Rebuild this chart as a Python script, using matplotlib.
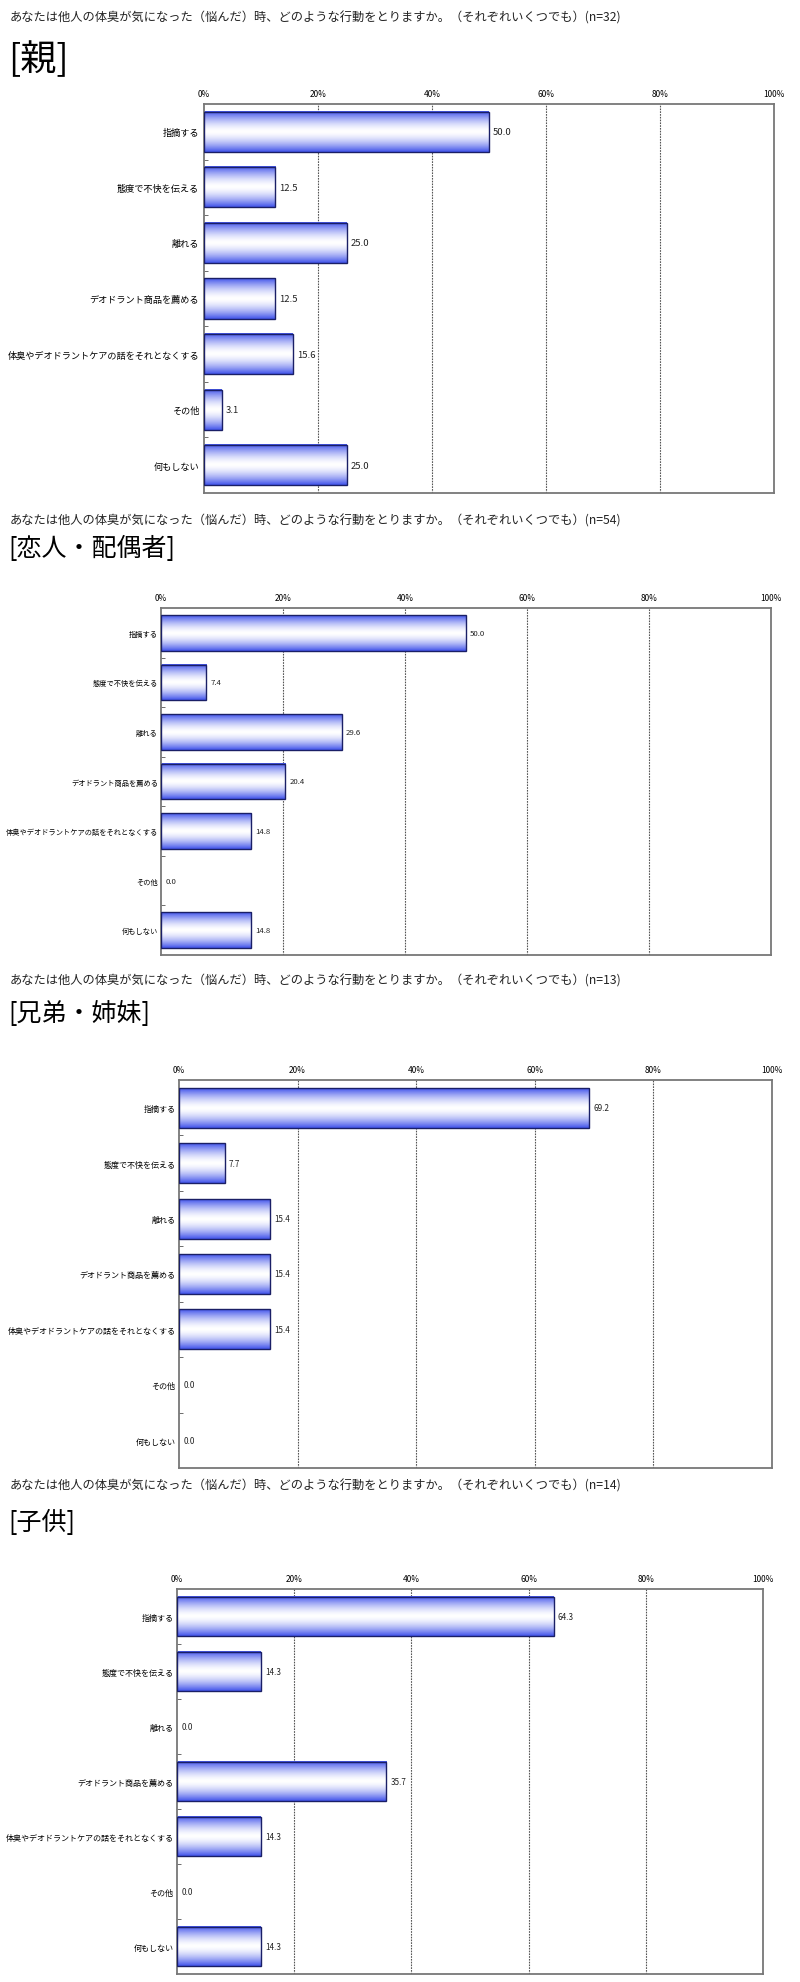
import matplotlib
matplotlib.use("Agg")
import matplotlib.pyplot as plt
import numpy as np

plt.rcParams['font.family'] = ['Noto Sans CJK JP', 'DejaVu Sans']

categories = ["指摘する", "態度で不快を伝える", "離れる", "デオドラント商品を薦める",
              "体臭やデオドラントケアの話をそれとなくする", "その他", "何もしない"]
question = "あなたは他人の体臭が気になった（悩んだ）時、どのような行動をとりますか。（それぞれいくつでも）"
groups = ["[親]", "[恋人・配偶者]", "[兄弟・姉妹]", "[子供]"]
n_values = [32, 54, 13, 14]
values_parent = [50.0, 12.5, 25.0, 12.5, 15.6, 3.1, 25.0]
values_partner = [50.0, 7.4, 29.6, 20.4, 14.8, 0.0, 14.8]
values_sibling = [69.2, 7.7, 15.4, 15.4, 15.4, 0.0, 0.0]
values_child = [64.3, 14.3, 0.0, 35.7, 14.3, 0.0, 14.3]
series = [values_parent, values_partner, values_sibling, values_child]
xticks = [0, 20, 40, 60, 80, 100]
xtick_labels = ["0%", "20%", "40%", "60%", "80%", "100%"]

W, H = 800, 1983
fig = plt.figure(figsize=(W / 100, H / 100), dpi=100)

layouts = [
    dict(box=(204, 774, 105, 494), ty=18, hy=60, hs=26, ts=8.8, ls=6.6, vs=6.8, pad=3.5),
    dict(box=(161, 771, 609, 956), ty=521, hy=549, hs=18, ts=8.8, ls=5.2, vs=5.6, pad=2.2),
    dict(box=(179, 772, 1081, 1469), ty=981, hy=1014, hs=18, ts=8.8, ls=5.8, vs=5.8, pad=2.5),
    dict(box=(177, 763, 1590, 1975), ty=1486, hy=1523, hs=18, ts=8.8, ls=5.8, vs=5.8, pad=2.5),
]

blue = np.array([0.26, 0.33, 0.92])
white = np.array([1.0, 1.0, 1.0])
t = np.linspace(0, 1, 64)
w = 1 - np.abs(2 * t - 1) ** 1.6
grad = (blue[None, :] * (1 - w[:, None]) + white[None, :] * w[:, None])[:, None, :]

for vals, grp, n, lay in zip(series, groups, n_values, layouts):
    l, r, tp, bt = lay["box"]
    ax = fig.add_axes([l / W, 1 - bt / H, (r - l) / W, (bt - tp) / H])
    fig.text(10 / W, 1 - lay["ty"] / H, f"{question}(n={n})", fontsize=lay["ts"],
             va="center", ha="left", color="#222222")
    fig.text(8 / W, 1 - lay["hy"] / H, grp, fontsize=lay["hs"], va="center", ha="left",
             color="black")
    y = np.arange(len(categories))
    bars = ax.barh(y, vals, height=0.72, facecolor="none", edgecolor="#1a1f66",
                   linewidth=1.0, zorder=3)
    for b, v in zip(bars, vals):
        x0, y0, bw, bh = b.get_x(), b.get_y(), b.get_width(), b.get_height()
        if bw > 0:
            ax.imshow(grad, extent=[x0, x0 + bw, y0 + bh, y0], aspect="auto",
                      zorder=2, interpolation="bilinear")
        else:
            b.set_visible(False)
        ax.annotate(f"{v:.1f}", xy=(x0 + bw, y0 + bh / 2), xytext=(3, 0),
                    textcoords="offset points", va="center", ha="left",
                    fontsize=lay["vs"], color="#222222")
    ax.set_xlim(0, 100)
    ax.set_ylim(len(categories) - 0.5, -0.5)
    ax.set_xticks(xticks)
    ax.set_xticklabels(xtick_labels, fontsize=6)
    ax.xaxis.tick_top()
    ax.tick_params(axis="x", length=0, pad=4)
    ax.set_yticks(y)
    ax.set_yticklabels(categories, fontsize=lay["ls"])
    ax.tick_params(axis="y", length=0, pad=lay["pad"])
    ax.set_yticks(np.arange(len(categories) - 1) + 0.5, minor=True)
    ax.tick_params(axis="y", which="minor", length=3, direction="in", color="#555555")
    for gx in [20, 40, 60, 80]:
        ax.axvline(gx, color="#555555", linestyle=(0, (1.5, 1.0)), linewidth=0.8, zorder=1)
    for s in ax.spines.values():
        s.set_color("#777777")
        s.set_linewidth(1.3)
    ax.set_facecolor("white")

fig.savefig("out.png", dpi=100, facecolor="white")
